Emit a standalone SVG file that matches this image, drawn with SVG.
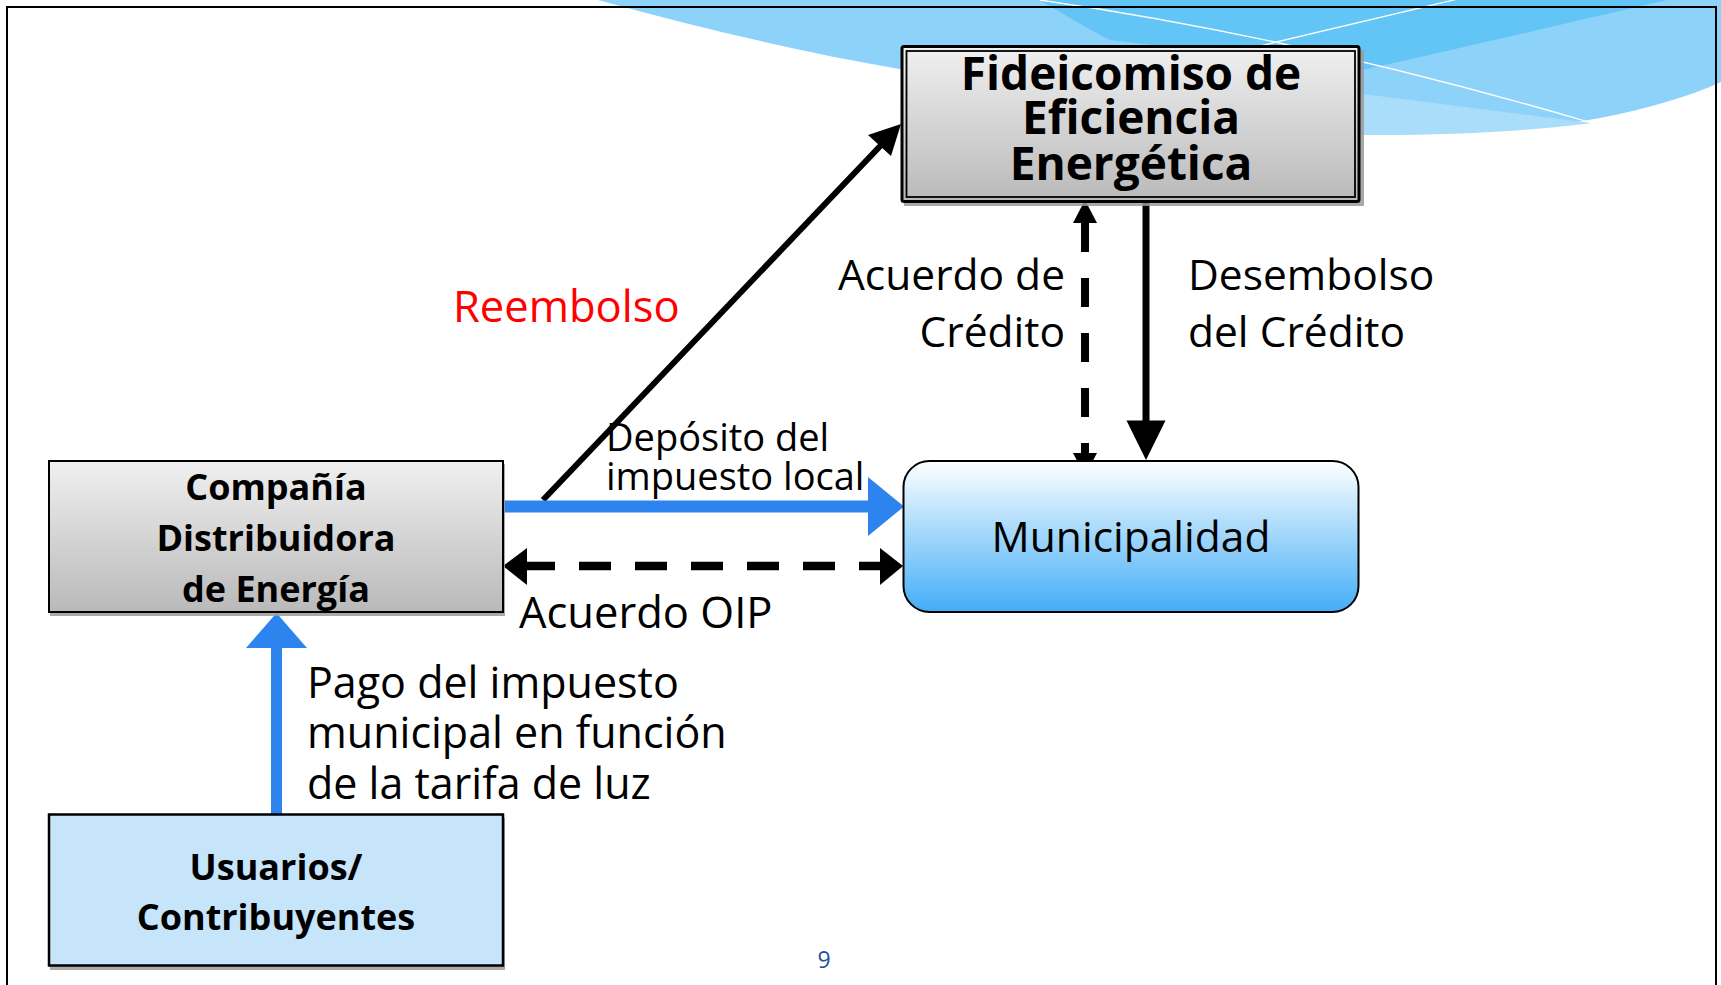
<svg xmlns="http://www.w3.org/2000/svg" width="1721" height="985" viewBox="0 0 1721 985">
<defs>
<linearGradient id="grey" x1="0" y1="0" x2="0" y2="1"><stop offset="0" stop-color="#f0f0f0"/><stop offset="1" stop-color="#b9b9b9"/></linearGradient>
<linearGradient id="muni" x1="0" y1="0" x2="0" y2="1"><stop offset="0" stop-color="#ffffff"/><stop offset="0.45" stop-color="#a9dafb"/><stop offset="1" stop-color="#44adf7"/></linearGradient>
<style>
.t{font-family:"Open Sans","Liberation Sans",sans-serif;fill:#000}
.b{font-weight:bold}
.c{text-anchor:middle}
.lbl{font-size:42.5px}
.shadow{fill:#9a9a9a;opacity:0.85}
</style>
</defs>
<g id="background">
<path d="M598,0 C700,28 800,52 905,70 L1360,131 C1450,137 1540,129 1600,118 C1650,108 1690,96 1721,82 L1721,0 Z" fill="#8dd2f9"/>
<path d="M1355,93 L1592,123 C1540,130 1450,136 1355,135 Z" fill="#a9ddfa"/>
<path d="M1040,0 C1070,18 1090,30 1110,40 L1362,70 C1460,48 1560,25 1667,0 Z" fill="#63c4f6"/>
<path d="M1040,0 Q1300,37 1592,123" fill="none" stroke="#ffffff" stroke-width="1.3"/>
<path d="M1230,53 L1462,-2" fill="none" stroke="#ffffff" stroke-width="1.3"/>
<path d="M7,985 L7,7 L1716,7 L1716,985" fill="none" stroke="#000" stroke-width="2"/>
</g>
<g id="connectors">
<line x1="543" y1="500" x2="885" y2="141" stroke="#000" stroke-width="6"/>
<polygon points="901,124 891,156 868,135" fill="#000"/>
<line x1="503" y1="506.5" x2="870" y2="506.5" stroke="#2e84ee" stroke-width="12"/>
<polygon points="868,477 868,536 904,506.5" fill="#2e84ee"/>
<line x1="523" y1="566" x2="883" y2="566" stroke="#000" stroke-width="8.5" stroke-dasharray="32 24"/>
<polygon points="503,566 527,548 527,585" fill="#000"/>
<polygon points="903,566 880,548 880,585" fill="#000"/>
<line x1="1085" y1="223" x2="1085" y2="472" stroke="#000" stroke-width="8" stroke-dasharray="29 26"/>
<polygon points="1085,200 1073,223 1097,223" fill="#000"/>
<polygon points="1085,476 1073,453 1097,453" fill="#000"/>
<line x1="1146" y1="200" x2="1146" y2="423" stroke="#000" stroke-width="7"/>
<polygon points="1126.5,420.5 1165.5,420.5 1146,460" fill="#000"/>
<line x1="276.5" y1="645" x2="276.5" y2="815" stroke="#2e84ee" stroke-width="11"/>
<polygon points="246,648 307,648 276.5,613" fill="#2e84ee"/>
</g>
<g id="fideicomiso">
<rect x="904" y="50" width="460" height="156" class="shadow"/>
<rect x="902" y="46.5" width="457" height="155" rx="2" fill="url(#grey)" stroke="#000" stroke-width="3"/>
<rect x="906.5" y="51" width="448.5" height="146" fill="none" stroke="#000" stroke-width="1.8"/>
<text class="t b c" font-size="46" x="1131" y="90">Fideicomiso de</text>
<text class="t b c" font-size="46" x="1131" y="134">Eficiencia</text>
<text class="t b c" font-size="46" x="1131" y="180">Energética</text>
</g>
<g id="compania">
<rect x="50" y="464" width="455" height="152" class="shadow"/>
<rect x="49" y="461" width="454" height="151" fill="url(#grey)" stroke="#000" stroke-width="2"/>
<text class="t b c" font-size="36" x="276" y="500">Compañía</text>
<text class="t b c" font-size="36" x="276" y="550.5">Distribuidora</text>
<text class="t b c" font-size="36" x="276" y="601.5">de Energía</text>
</g>
<g id="municipalidad">
<rect x="903.5" y="461" width="455" height="151" rx="26" fill="url(#muni)" stroke="#000" stroke-width="2"/>
<text class="t c" font-size="42.5" x="1131" y="552">Municipalidad</text>
</g>
<g id="usuarios">
<rect x="50" y="818" width="455" height="152" class="shadow"/>
<rect x="49" y="814.5" width="454" height="151" fill="#c6e5fa" stroke="#000" stroke-width="2.5"/>
<text class="t b c" font-size="36" x="276" y="880">Usuarios/</text>
<text class="t b c" font-size="36" x="276" y="930">Contribuyentes</text>
</g>
<g id="labels">
<text class="t" font-size="43.5" x="453" y="322" style="fill:#ff0000">Reembolso</text>
<text class="t lbl" x="1065" y="290" text-anchor="end">Acuerdo de</text>
<text class="t lbl" x="1065" y="347" text-anchor="end">Crédito</text>
<text class="t lbl" x="1188" y="290">Desembolso</text>
<text class="t lbl" x="1188" y="347">del Crédito</text>
<text class="t" font-size="38" x="606" y="451">Depósito del</text>
<text class="t" font-size="38" x="606" y="490">impuesto local</text>
<text class="t" font-size="43.5" x="519" y="628">Acuerdo OIP</text>
<text class="t" font-size="43" x="307" y="698">Pago del impuesto</text>
<text class="t" font-size="43" x="307" y="748">municipal en función</text>
<text class="t" font-size="43" x="307" y="799">de la tarifa de luz</text>
<text class="t" font-size="23" x="824" y="968" text-anchor="middle" style="fill:#1f4f9c">9</text>
</g>
</svg>
